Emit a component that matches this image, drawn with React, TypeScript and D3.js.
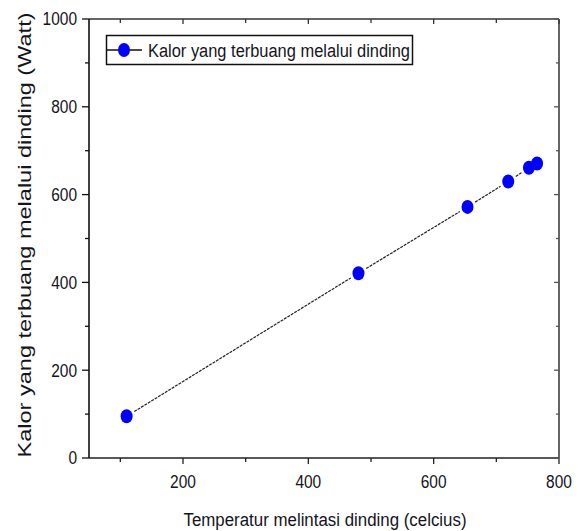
import React from "react";
import * as d3 from "d3";

// data
const temperature = [110, 480, 654, 719, 752, 765];
const heatLoss = [95, 421, 572, 630, 661, 671];
const xMajor = [200, 400, 600, 800];
const xMinor = [100, 300, 500, 700];
const yMajor = [0, 200, 400, 600, 800, 1000];
const yMinor = [100, 300, 500, 700, 900];
const seriesName = "Kalor yang terbuang melalui dinding";
const xTitle = "Temperatur melintasi dinding (celcius)";
const yTitle = "Kalor yang terbuang melalui dinding (Watt)";

const W = 581;
const H = 531;
const plot = { left: 89, right: 559, top: 19, bottom: 458 };
const font = "'Liberation Sans', Arial, sans-serif";
const ink = "#14141c";

const x = d3.scaleLinear().domain([50, 800]).range([plot.left, plot.right]);
const y = d3.scaleLinear().domain([0, 1000]).range([plot.bottom, plot.top]);

// line segments between markers, with a small gap at each end (Origin style)
function gappedSegments(gap: number) {
  const pts = temperature.map((t, i) => [x(t), y(heatLoss[i])]);
  const segs: string[] = [];
  const line = d3.line();
  for (let i = 0; i < pts.length - 1; i++) {
    const [x0, y0] = pts[i];
    const [x1, y1] = pts[i + 1];
    const len = Math.hypot(x1 - x0, y1 - y0);
    if (len <= gap * 2 + 1) continue;
    const ux = (x1 - x0) / len;
    const uy = (y1 - y0) / len;
    segs.push(
      line([
        [x0 + ux * gap, y0 + uy * gap],
        [x1 - ux * gap, y1 - uy * gap],
      ]) as string
    );
  }
  return segs;
}

export default function App() {
  const segs = gappedSegments(9);
  const legendY = 50;

  return (
    <svg
      width={W}
      height={H}
      style={{ position: "absolute", left: 0, top: 0, background: "#fff" }}
    >
      {/* frame: top and right drawn grey */}
      <line x1={plot.left} x2={plot.right} y1={plot.top} y2={plot.top} stroke="#333" strokeWidth={1.6} />
      <line x1={plot.right} x2={plot.right} y1={plot.top} y2={plot.bottom} stroke="#666" strokeWidth={2} />
      <line x1={plot.left} x2={plot.left} y1={plot.top} y2={plot.bottom} stroke="#111" strokeWidth={1.6} />
      <line x1={plot.left} x2={plot.right} y1={plot.bottom} y2={plot.bottom} stroke="#222" strokeWidth={1.6} />

      {/* bottom ticks (outward) */}
      {xMajor.map((v) => (
        <line key={"bx" + v} x1={x(v)} x2={x(v)} y1={plot.bottom} y2={plot.bottom + 6} stroke="#222" strokeWidth={1.3} />
      ))}
      {xMinor.map((v) => (
        <line key={"bm" + v} x1={x(v)} x2={x(v)} y1={plot.bottom} y2={plot.bottom + 4} stroke="#222" strokeWidth={1.3} />
      ))}
      {/* top ticks (inward) */}
      {xMajor.map((v) => (
        <line key={"tx" + v} x1={x(v)} x2={x(v)} y1={plot.top} y2={plot.top + 5} stroke="#333" strokeWidth={1.3} />
      ))}
      {xMinor.map((v) => (
        <line key={"tm" + v} x1={x(v)} x2={x(v)} y1={plot.top} y2={plot.top + 4} stroke="#333" strokeWidth={1.3} />
      ))}
      {/* left ticks (outward) */}
      {yMajor.map((v) => (
        <line key={"ly" + v} x1={plot.left - 7} x2={plot.left} y1={y(v)} y2={y(v)} stroke="#111" strokeWidth={1.3} />
      ))}
      {yMinor.map((v) => (
        <line key={"lm" + v} x1={plot.left - 4} x2={plot.left} y1={y(v)} y2={y(v)} stroke="#111" strokeWidth={1.3} />
      ))}
      {/* right ticks (inward) */}
      {yMajor.map((v) => (
        <line key={"ry" + v} x1={plot.right - 5} x2={plot.right} y1={y(v)} y2={y(v)} stroke="#555" strokeWidth={1.3} />
      ))}
      {yMinor.map((v) => (
        <line key={"rm" + v} x1={plot.right - 3} x2={plot.right} y1={y(v)} y2={y(v)} stroke="#555" strokeWidth={1.3} />
      ))}

      {/* tick labels */}
      {xMajor.map((v) => (
        <text
          key={"xl" + v}
          x={x(v)}
          y={488}
          textAnchor="middle"
          fontFamily={font}
          fontSize={18}
          fill={ink}
          textLength={String(v).length * 8.6}
          lengthAdjust="spacingAndGlyphs"
        >
          {v}
        </text>
      ))}
      {yMajor.map((v) => (
        <text
          key={"yl" + v}
          x={77}
          y={y(v)}
          dy="0.36em"
          textAnchor="end"
          fontFamily={font}
          fontSize={18}
          fill={ink}
          textLength={String(v).length * 8.6}
          lengthAdjust="spacingAndGlyphs"
        >
          {v}
        </text>
      ))}

      {/* axis titles */}
      <text
        x={325}
        y={526}
        textAnchor="middle"
        fontFamily={font}
        fontSize={18}
        fill={ink}
        textLength={283}
        lengthAdjust="spacingAndGlyphs"
      >
        {xTitle}
      </text>
      <text
        transform={`translate(31,${235}) rotate(-90)`}
        textAnchor="middle"
        fontFamily={font}
        fontSize={18}
        fill={ink}
        textLength={445}
        lengthAdjust="spacingAndGlyphs"
      >
        {yTitle}
      </text>

      {/* series */}
      <g stroke="#222" strokeWidth={1.2} fill="none" strokeDasharray="3 1">
        {segs.map((d, i) => (
          <path key={i} d={d} />
        ))}
      </g>
      <g fill="#0000ff">
        {temperature.map((t, i) => (
          <ellipse key={i} cx={x(t)} cy={y(heatLoss[i])} rx={6} ry={7} />
        ))}
      </g>

      {/* legend */}
      <rect x={106.5} y={35.5} width={306} height={29} fill="#fff" stroke="#111" strokeWidth={1.5} />
      <line x1={106} x2={142} y1={legendY} y2={legendY} stroke="#111" strokeWidth={1.3} />
      <ellipse cx={124} cy={legendY} rx={6} ry={7} fill="#0000ff" />
      <text
        x={148}
        y={56.5}
        fontFamily={font}
        fontSize={18}
        fill={ink}
        textLength={262}
        lengthAdjust="spacingAndGlyphs"
      >
        {seriesName}
      </text>
    </svg>
  );
}
